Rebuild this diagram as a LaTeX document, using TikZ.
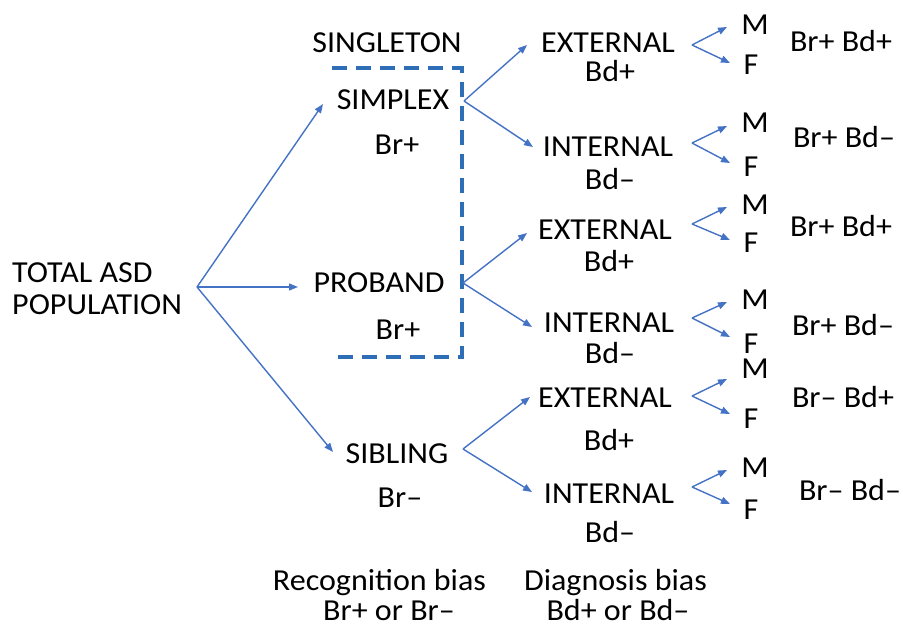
\documentclass[tikz,border=0pt]{standalone}
\usepackage{fontspec}
\setmainfont{Carlito}[FakeStretch=1.05]
\usetikzlibrary{arrows.meta}
\definecolor{arrowblue}{RGB}{68,114,196}
\definecolor{dashblue}{RGB}{46,110,182}
\begin{document}
\begin{tikzpicture}[x=1pt,y=-1pt,
  lbl/.style={anchor=base,inner sep=0pt,font=\fontsize{30.5}{36}\selectfont},
  lblw/.style={anchor=base west,inner sep=0pt,font=\fontsize{30.5}{36}\selectfont},
  conn/.style={draw=arrowblue,line width=1.4pt,-{Triangle[length=9pt,width=7pt]}},
  box/.style={draw=dashblue,line width=3.2pt,dash pattern=on 15pt off 9pt}]
\useasboundingbox (0,0) rectangle (903,631);
% texts
\node[lblw] (total) at (12,283) {TOTAL ASD};
\node[lblw] (pop) at (12,315) {POPULATION};
\node[lbl] (singleton) at (387,53) {SINGLETON};
\node[lbl] (simplex) at (393,110) {SIMPLEX};
\node[lbl] (brA) at (397,155) {Br+};
\node[lbl] (proband) at (379,293) {PROBAND};
\node[lbl] (brB) at (398,339) {Br+};
\node[lbl] (sibling) at (397,463) {SIBLING};
\node[lbl] (brC) at (400,507) {Br–};
\node[lbl] (ext1) at (608,53) {EXTERNAL};
\node[lbl] (bd1) at (610,82) {Bd+};
\node[lbl] (int1) at (608,157) {INTERNAL};
\node[lbl] (bd2) at (610,190) {Bd–};
\node[lbl] (ext2) at (605,240) {EXTERNAL};
\node[lbl] (bd3) at (609,272) {Bd+};
\node[lbl] (int2) at (609,332) {INTERNAL};
\node[lbl] (bd4) at (610,363) {Bd–};
\node[lbl] (ext3) at (605,407) {EXTERNAL};
\node[lbl] (bd5) at (609,450) {Bd+};
\node[lbl] (int3) at (609,503) {INTERNAL};
\node[lbl] (bd6) at (610,542) {Bd–};
% M / F
\node[lbl] (m1) at (755,35) {M};  \node[lbl] (f1) at (751,75) {F};
\node[lbl] (m2) at (755,133) {M}; \node[lbl] (f2) at (751,177) {F};
\node[lbl] (m3) at (755,215) {M}; \node[lbl] (f3) at (751,253) {F};
\node[lbl] (m4) at (755,310) {M}; \node[lbl] (f4) at (751,353) {F};
\node[lbl] (m5) at (755,378) {M}; \node[lbl] (f5) at (751,428) {F};
\node[lbl] (m6) at (755,477) {M}; \node[lbl] (f6) at (751,519) {F};
\node[lbl] (r1) at (841,52) {Br+ Bd+};
\node[lbl] (r2) at (844,148) {Br+ Bd–};
\node[lbl] (r3) at (841,237) {Br+ Bd+};
\node[lbl] (r4) at (843,335) {Br+ Bd–};
\node[lbl] (r5) at (843,407) {Br– Bd+};
\node[lbl] (r6) at (850,500) {Br– Bd–};
\node[lbl] (recog) at (379.5,590) {Recognition bias};
\node[lbl] (recog2) at (389,620) {Br+ or Br–};
\node[lbl] (diag) at (615.5,590) {Diagnosis bias};
\node[lbl] (diag2) at (618,620) {Bd+ or Bd–};
% dashed bracket
\coordinate (bxa) at (332,68);
\coordinate (bxb) at (462,68);
\coordinate (bxc) at (462,357);
\coordinate (bxd) at (332,357);
\draw[box] (bxa) -- (bxb) -- (bxc) -- (bxd);
% branch points
\coordinate (v0) at (197,287);
\coordinate (v1) at (464,101);
\coordinate (v2) at (463,283);
\coordinate (v3) at (463,449);
\coordinate (t0a) at (323,104);
\coordinate (t0b) at (298,287);
\coordinate (t0c) at (333,452);
\coordinate (t1a) at (527,45);
\coordinate (t1b) at (533,147);
\coordinate (t2a) at (527,233);
\coordinate (t2b) at (532,327);
\coordinate (t3a) at (530,397);
\coordinate (t3b) at (532,492);
\draw[conn] (v0) -- (t0a);
\draw[conn] (v0) -- (t0b);
\draw[conn] (v0) -- (t0c);
\draw[conn] (v1) -- (t1a);
\draw[conn] (v1) -- (t1b);
\draw[conn] (v2) -- (t2a);
\draw[conn] (v2) -- (t2b);
\draw[conn] (v3) -- (t3a);
\draw[conn] (v3) -- (t3b);
% M/F forks
\foreach \i/\vy/\my/\fy in {1/45/27/63, 2/143/126/163, 3/224/207/240, 4/318/302/337, 5/396/379/414, 6/487/470/504}{
  \coordinate (mv\i) at (692,\vy);
  \coordinate (mt\i) at (727,\my);
  \coordinate (ft\i) at (730,\fy);
  \draw[conn] (mv\i) -- (mt\i);
  \draw[conn] (mv\i) -- (ft\i);
}
\end{tikzpicture}
\end{document}
